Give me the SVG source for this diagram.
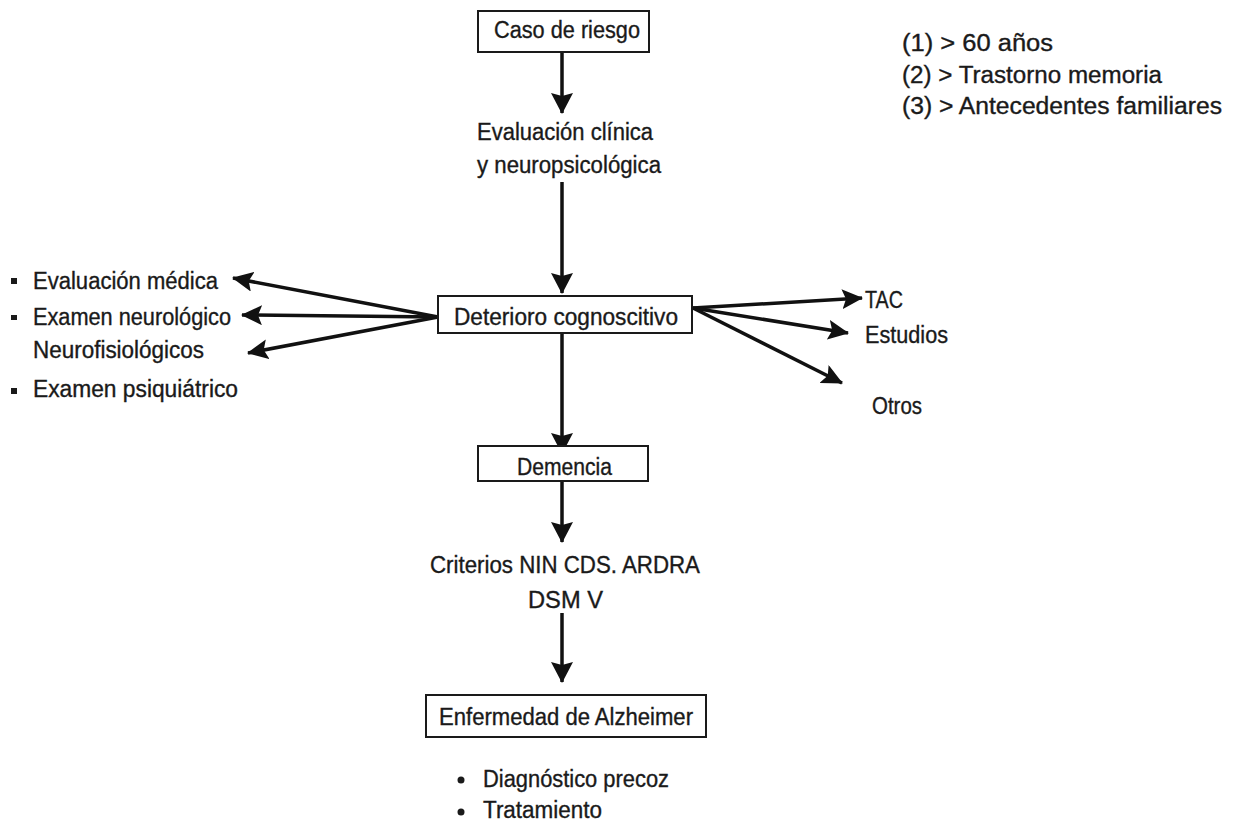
<svg xmlns="http://www.w3.org/2000/svg" width="1235" height="832" viewBox="0 0 1235 832">
<style>
text{font-family:"Liberation Sans",Arial,sans-serif;font-size:23px;fill:#1a1a1a;stroke:#1a1a1a;stroke-width:0.35}
.box{fill:#fff;stroke:#1a1a1a;stroke-width:2}
.arr{stroke:#111;stroke-width:3.5;fill:none}
</style>
<defs>
<marker id="ah" viewBox="0 0 21 22" refX="20" refY="11" markerWidth="21" markerHeight="22" markerUnits="userSpaceOnUse" orient="auto">
<path d="M0,0 L21,11 L0,22 L3,11 Z" fill="#111"/>
</marker>
<marker id="ahs" viewBox="0 0 21 20" refX="20" refY="10" markerWidth="21" markerHeight="20" markerUnits="userSpaceOnUse" orient="auto">
<path d="M0,0 L21,10 L0,20 L4,10 Z" fill="#111"/>
</marker>
</defs>
<rect width="1235" height="832" fill="#fff"/>

<g id="connectors">
<line class="arr" x1="562" y1="52" x2="562" y2="113" marker-end="url(#ah)"/>
<line class="arr" x1="562" y1="182" x2="562" y2="293" marker-end="url(#ah)"/>
<line class="arr" x1="562" y1="334" x2="562" y2="453" marker-end="url(#ah)"/>
<line class="arr" x1="562" y1="481" x2="562" y2="542" marker-end="url(#ah)"/>
<line class="arr" x1="562" y1="613" x2="562" y2="682" marker-end="url(#ah)"/>
<line class="arr" x1="438" y1="317" x2="233" y2="278" marker-end="url(#ahs)"/>
<line class="arr" x1="438" y1="317" x2="242" y2="315" marker-end="url(#ahs)"/>
<line class="arr" x1="438" y1="317" x2="248" y2="353" marker-end="url(#ahs)"/>
<line class="arr" x1="693" y1="308" x2="862" y2="298" marker-end="url(#ahs)"/>
<line class="arr" x1="693" y1="308" x2="848" y2="333" marker-end="url(#ahs)"/>
<line class="arr" x1="693" y1="308" x2="842" y2="383" marker-end="url(#ahs)"/>
</g>

<g id="caso-riesgo">
<rect class="box" x="478" y="11" width="171" height="41"/>
<text x="494" y="38" textLength="146" lengthAdjust="spacingAndGlyphs">Caso de riesgo</text>
</g>

<g id="legend">
<text x="902" y="51" textLength="151" lengthAdjust="spacingAndGlyphs">(1) &gt; 60 años</text>
<text x="902" y="83" textLength="260" lengthAdjust="spacingAndGlyphs">(2) &gt; Trastorno memoria</text>
<text x="902" y="114" textLength="320" lengthAdjust="spacingAndGlyphs">(3) &gt; Antecedentes familiares</text>
</g>

<g id="evaluacion">
<text x="477" y="140" textLength="176" lengthAdjust="spacingAndGlyphs">Evaluación clínica</text>
<text x="477" y="173" textLength="184" lengthAdjust="spacingAndGlyphs">y neuropsicológica</text>
</g>

<g id="deterioro">
<rect class="box" x="438" y="296" width="254" height="37"/>
<text x="454" y="325" textLength="224" lengthAdjust="spacingAndGlyphs">Deterioro cognoscitivo</text>
</g>

<g id="left-list">
<rect x="11" y="278" width="6" height="6" fill="#1a1a1a"/>
<text x="33" y="289" textLength="185" lengthAdjust="spacingAndGlyphs">Evaluación médica</text>
<rect x="11" y="315" width="6" height="5" fill="#1a1a1a"/>
<text x="33" y="325" textLength="198" lengthAdjust="spacingAndGlyphs">Examen neurológico</text>
<text x="33" y="358" textLength="171" lengthAdjust="spacingAndGlyphs">Neurofisiológicos</text>
<rect x="11" y="388" width="6" height="6" fill="#1a1a1a"/>
<text x="33" y="397" textLength="205" lengthAdjust="spacingAndGlyphs">Examen psiquiátrico</text>
</g>

<g id="right-list">
<text x="865" y="308" textLength="38" lengthAdjust="spacingAndGlyphs">TAC</text>
<text x="865" y="343" textLength="83" lengthAdjust="spacingAndGlyphs">Estudios</text>
<text x="872" y="414" textLength="50" lengthAdjust="spacingAndGlyphs">Otros</text>
</g>

<g id="demencia">
<rect class="box" x="478" y="446" width="170" height="35"/>
<text x="517" y="475" textLength="95" lengthAdjust="spacingAndGlyphs">Demencia</text>
</g>

<g id="criterios">
<text x="430" y="573" textLength="270" lengthAdjust="spacingAndGlyphs">Criterios NIN CDS. ARDRA</text>
<text x="528" y="608" textLength="75" lengthAdjust="spacingAndGlyphs">DSM  V</text>
</g>

<g id="alzheimer">
<rect class="box" x="426" y="695" width="280" height="42"/>
<text x="439" y="725" textLength="254" lengthAdjust="spacingAndGlyphs">Enfermedad de Alzheimer</text>
</g>

<g id="bottom-list">
<circle cx="461" cy="780" r="3.5" fill="#1a1a1a"/>
<text x="483" y="787" textLength="186" lengthAdjust="spacingAndGlyphs">Diagnóstico precoz</text>
<circle cx="461" cy="812" r="3.5" fill="#1a1a1a"/>
<text x="483" y="818" textLength="119" lengthAdjust="spacingAndGlyphs">Tratamiento</text>
</g>
</svg>
